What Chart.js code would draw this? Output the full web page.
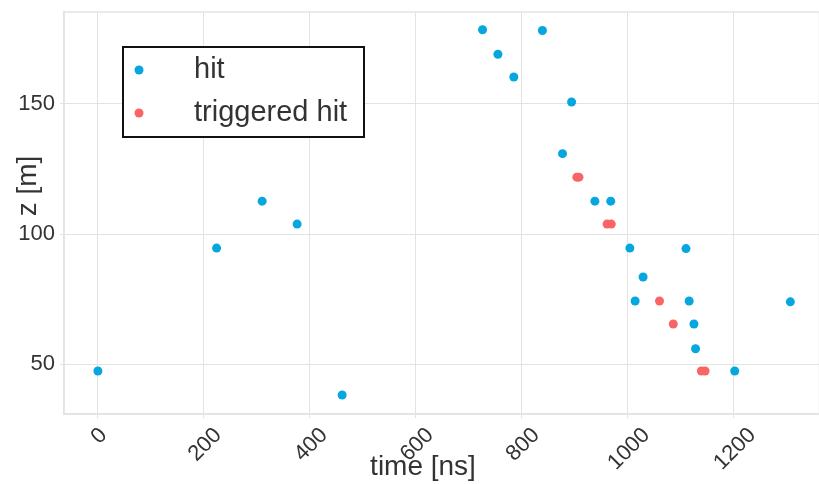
<!DOCTYPE html>
<html>
<head>
<meta charset="utf-8">
<title>hits</title>
<script src="https://cdn.jsdelivr.net/npm/chart.js@4.4.1/dist/chart.umd.min.js"></script>
<style>
  html, body { margin: 0; padding: 0; background: #fff; overflow: hidden; }
  #wrap { width: 824px; height: 484px; }
</style>
</head>
<body>
<div id="wrap"><canvas id="my-chart" width="824" height="484"></canvas></div>
<script>
'use strict';

// hit times [ns] and depths [m]
const hitTime = [0, 224, 310, 376, 461, 726, 755, 785, 839, 877, 894, 938, 968, 1004, 1014, 1029, 1110, 1116, 1125, 1128, 1202, 1307];
const hitZ = [47.5, 94.6, 112.6, 103.8, 38.3, 178.3, 168.9, 160.2, 178.0, 130.8, 150.6, 112.6, 112.6, 94.6, 74.3, 83.5, 94.4, 74.3, 65.5, 56.0, 47.5, 74.0];

const trigTime = [904, 908, 961, 969, 1060, 1086, 1139, 1146];
const trigZ = [121.8, 121.8, 103.8, 103.8, 74.3, 65.5, 47.5, 47.5];

const xTicks = [0, 200, 400, 600, 800, 1000, 1200];
const yTicks = [50, 100, 150];

const seriesNames = ['hit', 'triggered hit'];
const seriesColors = ['#06a7df', '#f96464'];

const FONT = "'Liberation Sans', Arial, sans-serif";
const GRID = '#e3e3e3';
const TICK_SIZE = 22;

function toPoints(xs, ys) {
  let pts = [];
  for (let i = 0; i < xs.length; i++) {
    pts.push({ x: xs[i], y: ys[i] });
  }
  return pts;
}

// light frame around the plotting area
const framePlugin = {
  id: 'frame',
  beforeDatasetsDraw(chart) {
    const a = chart.chartArea;
    const ctx = chart.ctx;
    ctx.save();
    ctx.strokeStyle = GRID;
    ctx.lineWidth = 1.5;
    ctx.strokeRect(a.left, a.top, a.right - a.left, a.bottom - a.top);
    ctx.restore();
  }
};

// x tick labels turned 45 degrees and centred under their tick
const xLabelPlugin = {
  id: 'xlabels',
  afterDraw(chart) {
    const scale = chart.scales.x;
    const ctx = chart.ctx;
    const top = chart.chartArea.bottom + 11;
    const cap = TICK_SIZE * 0.716;
    ctx.save();
    ctx.font = TICK_SIZE + 'px ' + FONT;
    ctx.fillStyle = '#333';
    ctx.textAlign = 'center';
    ctx.textBaseline = 'alphabetic';
    for (let i = 0; i < xTicks.length; i++) {
      const txt = String(xTicks[i]);
      const w = ctx.measureText(txt).width;
      const ext = (w + cap) * Math.SQRT1_2;
      ctx.save();
      ctx.translate(scale.getPixelForValue(xTicks[i]), top + ext / 2);
      ctx.rotate(-Math.PI / 4);
      ctx.fillText(txt, 0, cap / 2);
      ctx.restore();
    }
    ctx.restore();
  }
};

// axis titles and the boxed legend inside the plot
const labelPlugin = {
  id: 'labels',
  afterDraw(chart) {
    const a = chart.chartArea;
    const ctx = chart.ctx;
    ctx.save();
    ctx.fillStyle = '#333';
    ctx.font = '28px ' + FONT;
    ctx.textAlign = 'center';
    ctx.textBaseline = 'middle';
    ctx.fillText('time [ns]', 423, 467);
    ctx.translate(28, 186);
    ctx.rotate(-Math.PI / 2);
    ctx.fillText('z [m]', 0, 0);
    ctx.restore();

    // legend
    const bx = a.left + 59;
    const by = a.top + 35;
    const bw = 241;
    const bh = 90;
    ctx.save();
    ctx.fillStyle = '#fff';
    ctx.fillRect(bx, by, bw, bh);
    ctx.strokeStyle = '#111';
    ctx.lineWidth = 2;
    ctx.strokeRect(bx, by, bw, bh);
    ctx.font = '29px ' + FONT;
    ctx.textAlign = 'left';
    ctx.textBaseline = 'middle';
    for (let i = 0; i < seriesNames.length; i++) {
      const cy = by + 23 + i * 43;
      ctx.fillStyle = seriesColors[i];
      ctx.beginPath();
      ctx.arc(bx + 16, cy, 4.5, 0, Math.PI * 2);
      ctx.fill();
      ctx.fillStyle = '#333';
      ctx.fillText(seriesNames[i], bx + 71, cy);
    }
    ctx.restore();
  }
};

let chartData = {
  type: 'scatter',
  data: {
    datasets: [{
      label: seriesNames[0],
      data: toPoints(hitTime, hitZ),
      backgroundColor: seriesColors[0],
      borderWidth: 0,
      pointRadius: 4.5
    },
    {
      label: seriesNames[1],
      data: toPoints(trigTime, trigZ),
      backgroundColor: seriesColors[1],
      borderWidth: 0,
      pointRadius: 4.5
    }]
  },
  options: {
    responsive: false,
    animation: false,
    layout: { padding: { top: 12, right: 2, left: 0, bottom: 0 } },
    plugins: {
      legend: { display: false },
      tooltip: { enabled: false }
    },
    scales: {
      x: {
        type: 'linear',
        min: -64,
        max: 1362,
        afterBuildTicks(scale) {
          scale.ticks = xTicks.map(v => ({ value: v }));
        },
        afterFit(scale) {
          scale.height = 70;
          scale.paddingLeft = 0;
          scale.paddingRight = 0;
        },
        grid: { color: GRID, lineWidth: 1, tickLength: 4 },
        border: { color: GRID, width: 1.5 },
        ticks: { display: false }
      },
      y: {
        type: 'linear',
        min: 31,
        max: 185.1,
        afterBuildTicks(scale) {
          scale.ticks = yTicks.map(v => ({ value: v }));
        },
        afterFit(scale) {
          scale.width = 64;
          scale.paddingTop = 0;
          scale.paddingBottom = 0;
        },
        grid: { color: GRID, lineWidth: 1, tickLength: 4 },
        border: { color: GRID, width: 1.5 },
        ticks: {
          padding: 5,
          color: '#333',
          font: { family: FONT, size: TICK_SIZE },
          callback: v => String(v)
        }
      }
    }
  },
  plugins: [framePlugin, xLabelPlugin, labelPlugin]
};

let myChart = new Chart(document.getElementById('my-chart').getContext('2d'), chartData);
</script>
</body>
</html>
